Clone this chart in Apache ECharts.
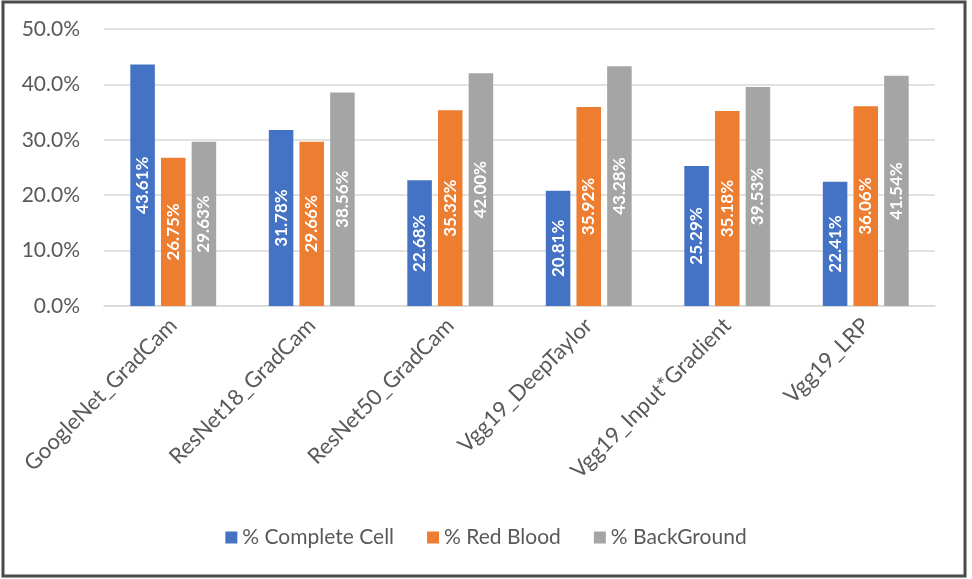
<!DOCTYPE html>
<html>
<head>
<meta charset="utf-8">
<script src="https://cdn.jsdelivr.net/npm/echarts@6/dist/echarts.min.js"></script>
<style>html,body{margin:0;padding:0;background:#fff}#c{width:972px;height:579px}</style>
</head>
<body>
<div id="c"></div>
<script>
const categories = ["GoogleNet_GradCam","ResNet18_GradCam","ResNet50_GradCam","Vgg19_DeepTaylor","Vgg19_Input*Gradient","Vgg19_LRP"];
const completeCell = [43.61, 31.78, 22.68, 20.81, 25.29, 22.41];
const redBlood = [26.75, 29.66, 35.32, 35.92, 35.18, 36.06];
const backGround = [29.63, 38.56, 42.00, 43.28, 39.53, 41.54];
const seriesNames = ["% Complete Cell", "% Red Blood", "% BackGround"];
const colors = ["#4472C4", "#ED7D31", "#A5A5A5"];
const FONT = "Lato";

const chart = echarts.init(document.getElementById('c'));
function mk(name, data, color){
  return {
    name: name, type: 'bar', data: data, barGap: '25%', barCategoryGap: '38%',
    itemStyle: {color: color},
    label: {show: true, position: 'inside', rotate: 90, color: '#fff', fontSize: 17, fontFamily: FONT, fontWeight: 'bold',
      formatter: p => p.value.toFixed(2) + '%'}
  };
}
chart.setOption({
  animation: false,
  textStyle: {fontFamily: FONT},
  graphic: [{type: 'rect', shape: {x: 3, y: 2, width: 962, height: 574}, style: {fill: 'none', stroke: '#4a4a4a', lineWidth: 3}, silent: true}],
  grid: {left: 104, right: 37, top: 29, bottom: 273},
  legend: {bottom: 26, left: 'center', itemWidth: 12, itemHeight: 12, itemGap: 33,
    icon: 'rect', textStyle: {fontSize: 21, color: '#595959', fontFamily: FONT},
    data: seriesNames},
  xAxis: {type: 'category', data: categories,
    axisLine: {show: true, lineStyle: {color: '#d9d9d9', width: 1.5}},
    axisTick: {show: false},
    axisLabel: {rotate: 45, interval: 0, margin: 16, fontSize: 22, color: '#595959', fontFamily: FONT}},
  yAxis: {type: 'value', min: 0, max: 50, interval: 10,
    axisLine: {show: false}, axisTick: {show: false},
    splitLine: {lineStyle: {color: '#d9d9d9', width: 1.5}},
    axisLabel: {margin: 24, fontSize: 21, color: '#595959', fontFamily: FONT, formatter: v => v.toFixed(1) + '%'}},
  series: [mk(seriesNames[0], completeCell, colors[0]), mk(seriesNames[1], redBlood, colors[1]), mk(seriesNames[2], backGround, colors[2])]
});
</script>
</body>
</html>
